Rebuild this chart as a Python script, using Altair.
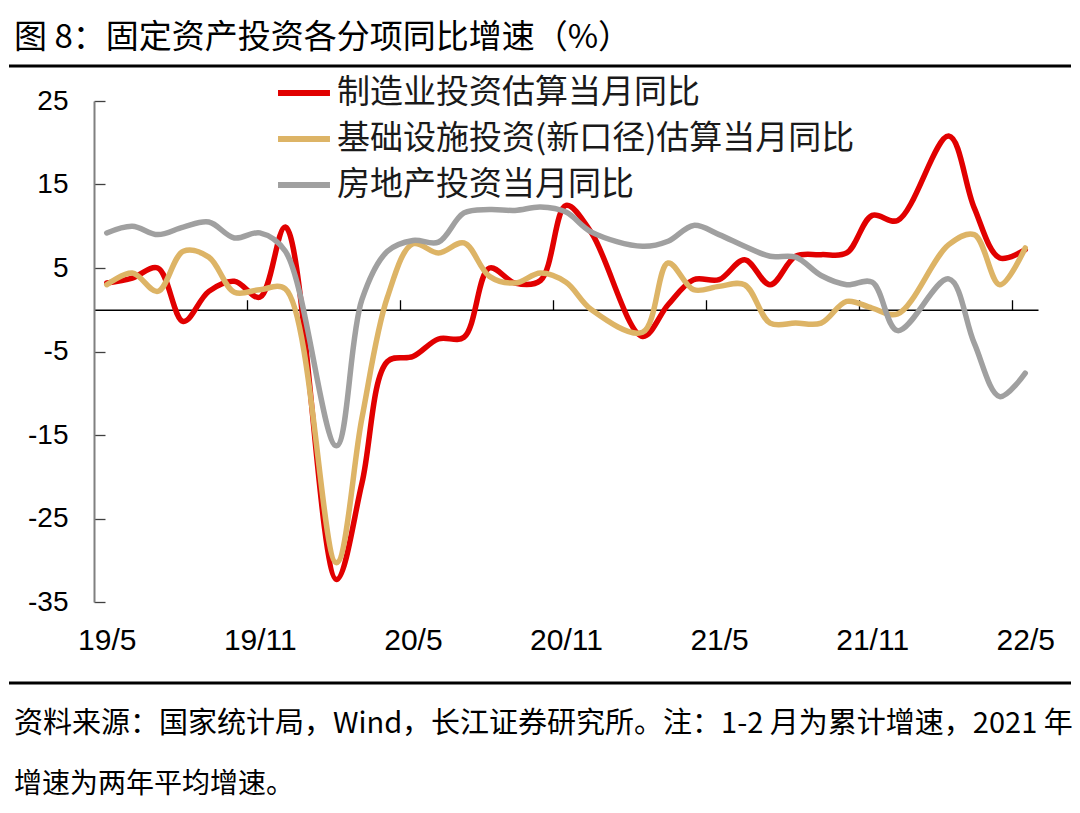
import json
import altair as alt
import pandas as pd

# ---------------- data ----------------
months = ["19/5", "19/6", "19/7", "19/8", "19/9", "19/10", "19/11", "19/12",
          "20/1", "20/2", "20/3", "20/4", "20/5", "20/6", "20/7", "20/8",
          "20/9", "20/10", "20/11", "20/12", "21/1", "21/2", "21/3", "21/4",
          "21/5", "21/6", "21/7", "21/8", "21/9", "21/10", "21/11", "21/12",
          "22/1", "22/2", "22/3", "22/4", "22/5"]
tick_labels = ["19/5", "19/11", "20/5", "20/11", "21/5", "21/11", "22/5"]

series_names = ["制造业投资估算当月同比", "基础设施投资(新口径)估算当月同比", "房地产投资当月同比"]
series_colors = ["#E10000", "#DDB466", "#A0A0A0"]

manufacturing = [3.2, 3.8, 5.0, -1.4, 2.2, 3.4, 1.5, 9.9,
                 None, -32.3, -20.8, -6.2, -5.6, -3.5, -3.3, 5.0,
                 3.2, 3.5, 12.5, 9.2, None, -3.2, 0.6, 3.6,
                 3.6, 6.0, 3.0, 6.4, 6.6, 6.8, 11.3, 10.7,
                 None, 20.8, 12.2, 6.2, 7.2]
infrastructure = [3.0, 4.4, 2.2, 7.0, 6.3, 2.1, 2.4, 2.5,
                  None, -30.3, -13.0, 1.5, 7.9, 6.8, 8.0, 4.0,
                  3.2, 4.4, 3.3, 0.0, None, -2.7, 5.6, 2.4,
                  2.8, 3.0, -1.6, -1.6, -1.6, 1.0, 0.2, -0.5,
                  None, 7.8, 9.0, 3.0, 7.4]
real_estate = [9.2, 10.0, 9.0, 9.9, 10.5, 8.6, 9.2, 7.0,
               None, -16.3, 1.2, 7.0, 8.3, 8.1, 11.6, 12.0,
               11.9, 12.3, 11.7, 9.3, None, 7.6, 8.2, 10.1,
               9.0, 7.6, 6.4, 6.3, 4.1, 3.0, 3.3, -2.5,
               None, 3.7, -4.0, -10.4, -7.6]

y_ticks = [25, 15, 5, -5, -15, -25, -35]

title_text = "图 8：固定资产投资各分项同比增速（%）"
note_line1 = "资料来源：国家统计局，Wind，长江证券研究所。注：1-2 月为累计增速，2021 年"
note_line2 = "增速为两年平均增速。"

# ---------------- table ----------------
rows = []
for name, vals in zip(series_names, [manufacturing, infrastructure, real_estate]):
    for i, (m, v) in enumerate(zip(months, vals)):
        rows.append({"series": name, "idx": i, "month": m, "value": v})
df = pd.DataFrame(rows)

W, H = 944, 501
YMIN, YMAX = -35, 25
zero_px = H * YMAX / (YMAX - YMIN)

CJK = "Noto Sans CJK SC"
LAT = "Liberation Sans, Arial, Noto Sans CJK SC"

label_expr = json.dumps(tick_labels) + "[round(datum.value / 6)]"
tick_pos = [6 * k - 0.5 for k in range(1, 7)]

x_scale = alt.Scale(domain=[-0.5, len(months) - 0.5], nice=False, zero=False)
y_scale = alt.Scale(domain=[YMIN, YMAX], nice=False, zero=False)
color_scale = alt.Scale(domain=series_names, range=series_colors)

legend = alt.Legend(orient="none", legendX=181, legendY=-37, title=None,
                    symbolType="stroke", symbolStrokeWidth=6, symbolSize=2700,
                    labelFontSize=33, labelFont=CJK, labelColor="#1a1a1a",
                    labelOffset=4, rowPadding=-4, padding=0, labelLimit=900)


def line_layer(k, with_axes):
    if with_axes:
        xa = alt.Axis(values=list(range(0, len(months), 6)), labelExpr=label_expr,
                      ticks=False, domain=False, grid=False, title=None,
                      labelFontSize=30, labelFont=LAT, labelColor="#000000",
                      labelPadding=23, labelBaseline="top")
        ya = alt.Axis(values=y_ticks, orient="left", ticks=False, domain=False,
                      grid=False, title=None, labelFontSize=28, labelFont=LAT,
                      labelColor="#000000", labelPadding=26,
                      labelExpr="toString(datum.value)")
    else:
        xa = None
        ya = None
    return (alt.Chart(df)
            .transform_filter(alt.datum.series == series_names[k])
            .transform_filter("isValid(datum.value)")
            .mark_line(interpolate="catmull-rom", strokeWidth=5.5, strokeCap="round",
                       strokeJoin="round")
            .encode(x=alt.X("idx:Q", scale=x_scale, axis=xa),
                    y=alt.Y("value:Q", scale=y_scale, axis=ya),
                    color=alt.Color("series:N", scale=color_scale, legend=legend,
                                    sort=series_names)))


tick_layer = (alt.Chart(df)
              .transform_filter("isValid(datum.value)")
              .mark_point(opacity=0)
              .encode(x=alt.X("idx:Q", scale=x_scale,
                              axis=alt.Axis(orient="top", offset=-zero_px, values=tick_pos,
                                            labels=False, tickSize=10, tickColor="#000000",
                                            tickWidth=1.3, domainColor="#000000",
                                            domainWidth=1.5, grid=False, title=None)),
                      y=alt.Y("value:Q", scale=y_scale,
                              axis=alt.Axis(orient="right", offset=-W, values=y_ticks,
                                            labels=False, tickSize=11, tickColor="#404040",
                                            tickWidth=1.3, domainColor="#808080",
                                            domainWidth=2, grid=False, title=None))))

text_df = pd.DataFrame({"t": [title_text]})
title_layer = alt.Chart(text_df).mark_text(
    align="left", baseline="alphabetic", fontSize=33, font=CJK, color="#000000"
).encode(text="t:N", x=alt.value(-80), y=alt.value(-53))

note1 = alt.Chart(pd.DataFrame({"t": [note_line1]})).mark_text(
    align="left", baseline="middle", fontSize=29, font=CJK, color="#000000"
).encode(text="t:N", x=alt.value(-80), y=alt.value(623))
note2 = alt.Chart(pd.DataFrame({"t": [note_line2]})).mark_text(
    align="left", baseline="middle", fontSize=28, font=CJK, color="#000000"
).encode(text="t:N", x=alt.value(-80), y=alt.value(684))

top_rule = alt.Chart(text_df).mark_rule(color="#000000", strokeWidth=3).encode(
    x=alt.value(-85), x2=alt.value(977), y=alt.value(-35))
bottom_rule = alt.Chart(text_df).mark_rule(color="#000000", strokeWidth=3).encode(
    x=alt.value(-85), x2=alt.value(977), y=alt.value(582))

chart = (alt.layer(tick_layer, line_layer(0, True), line_layer(1, False), line_layer(2, False),
                   title_layer, note1, note2, top_rule, bottom_rule)
         .resolve_axis(x="independent", y="independent")
         .properties(width=W, height=H,
                     autosize=alt.AutoSizeParams(type="none"),
                     padding={"left": 86, "top": 93, "right": 34, "bottom": 203},
                     background="#ffffff")
         .configure_view(strokeWidth=0))

chart.save("out.html", embed_options={"renderer": "svg", "actions": False})
